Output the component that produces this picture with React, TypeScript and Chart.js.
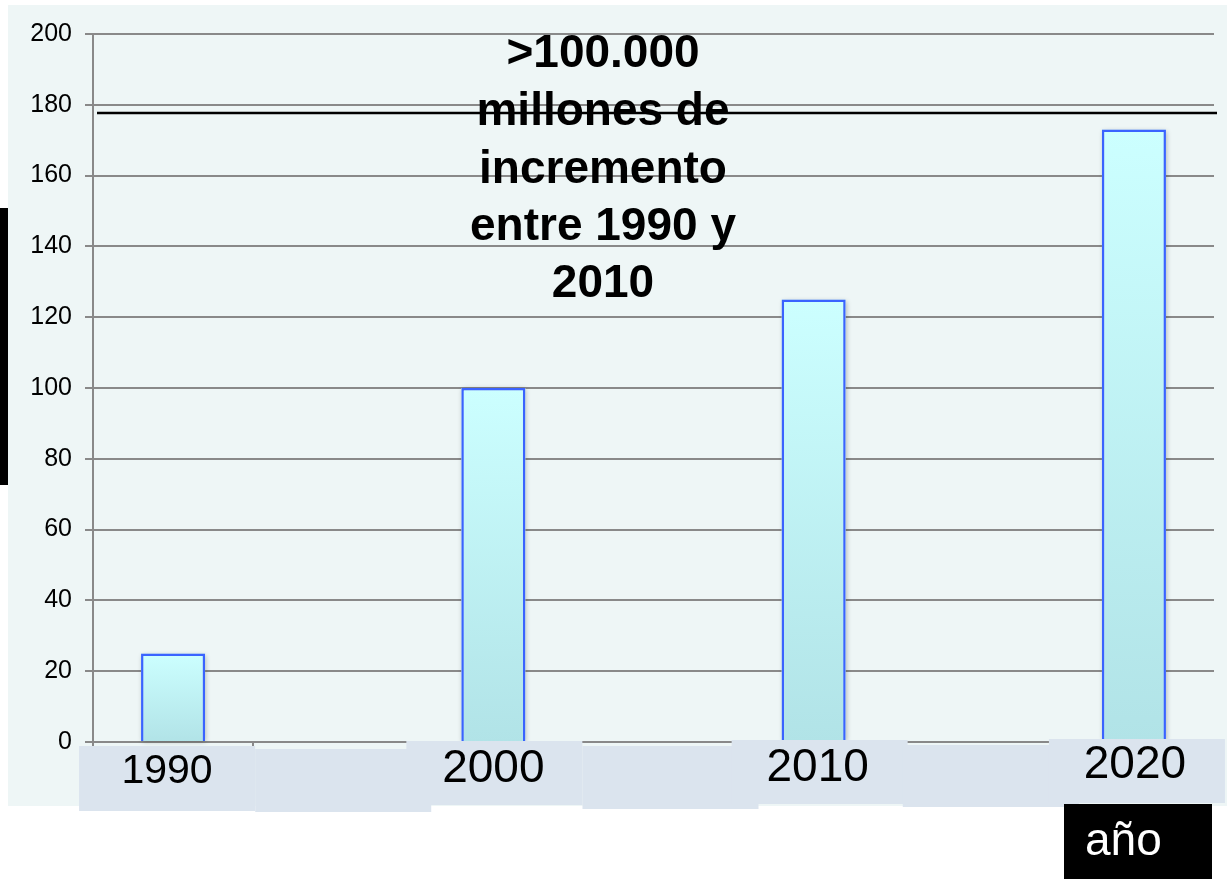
import React, { useEffect, useRef } from 'react';
import { Chart, registerables } from 'chart.js';

Chart.register(...registerables);

// ---- data ----
const CATEGORIES = ['1990', '', '2000', '', '2010', '', '2020'];
const VALUES: (number | null)[] = [25, null, 100, null, 125, null, 173];
const Y_MIN = 0;
const Y_MAX = 200;
const Y_STEP = 20;
const THRESHOLD_VALUE = 177.7;
const NOTE_LINES = ['>100.000', 'millones de', 'incremento', 'entre 1990 y', '2010'];
const AXIS_NAME = 'año';

// ---- styles ----
const W = 1227;
const H = 879;
const FONT = "'Liberation Sans', Arial, Helvetica, sans-serif";
const GRID = '#898989';
const PANEL = '#eef6f6';
const BOX = '#dbe4ee';
// per-category label box geometry (relative to category centre / axis baseline)
const BOX_GEOM = [
  { dx: -94, top: 4, bottom: 69 },
  { dx: -78, top: 7, bottom: 70 },
  { dx: -87, top: -1, bottom: 63 },
  { dx: -71, top: 4, bottom: 67 },
  { dx: -82, top: -2, bottom: 62 },
  { dx: -71, top: 3, bottom: 65 },
  { dx: -85, top: -3, bottom: 61 },
];
const BOX_W = 176;
const LABEL_STYLE = [
  { size: 41, dx: -6, dy: 41 },
  null,
  { size: 46, dx: 0, dy: 40 },
  null,
  { size: 46, dx: 4, dy: 39 },
  null,
  { size: 46, dx: 1, dy: 36 },
];

const decorPlugin = {
  id: 'decor',
  beforeDraw(chart: any) {
    const ctx = chart.ctx;
    ctx.save();
    ctx.fillStyle = '#ffffff';
    ctx.fillRect(0, 0, W, H);
    ctx.fillStyle = PANEL;
    ctx.fillRect(8, 5, W - 8, 801);
    ctx.fillStyle = '#000000';
    ctx.fillRect(0, 208, 8, 277);
    ctx.restore();
  },
  beforeDatasetsDraw(chart: any) {
    const ctx = chart.ctx;
    const meta = chart.getDatasetMeta(0);
    ctx.save();
    ctx.shadowColor = 'rgba(0,0,0,0.28)';
    ctx.shadowBlur = 5;
    ctx.shadowOffsetX = 1;
    ctx.shadowOffsetY = 1;
    ctx.fillStyle = '#cfeff0';
    meta.data.forEach((el: any, i: number) => {
      if (VALUES[i] == null) return;
      const { x, y, base, width } = el.getProps(['x', 'y', 'base', 'width'], true);
      ctx.fillRect(x - width / 2, y, width, base - y);
    });
    ctx.restore();
  },
  afterDatasetsDraw(chart: any) {
    const ctx = chart.ctx;
    const ys = chart.scales.y;
    const area = chart.chartArea;
    const ly = ys.getPixelForValue(THRESHOLD_VALUE);
    ctx.save();
    ctx.strokeStyle = '#000000';
    ctx.lineWidth = 2.4;
    ctx.beginPath();
    ctx.moveTo(area.left + 4, ly);
    ctx.lineTo(area.right + 3, ly);
    ctx.stroke();

    ctx.fillStyle = '#000000';
    ctx.font = `bold 46px ${FONT}`;
    ctx.textAlign = 'center';
    ctx.textBaseline = 'alphabetic';
    const cx = area.left + 510;
    const baselines = [67, 125, 183, 240, 297];
    NOTE_LINES.forEach((t, i) => {
      ctx.fillText(t, cx, baselines[i]);
    });
    ctx.restore();
  },
  afterDraw(chart: any) {
    const ctx = chart.ctx;
    const xs = chart.scales.x;
    const base = chart.chartArea.bottom;
    ctx.save();
    ctx.fillStyle = BOX;
    CATEGORIES.forEach((_, i) => {
      const g = BOX_GEOM[i];
      const c = xs.getPixelForValue(i);
      ctx.fillRect(c + g.dx, base + g.top, BOX_W, g.bottom - g.top);
    });
    ctx.fillStyle = '#000000';
    ctx.textAlign = 'center';
    ctx.textBaseline = 'alphabetic';
    CATEGORIES.forEach((lab, i) => {
      const s = LABEL_STYLE[i];
      if (!lab || !s) return;
      const c = xs.getPixelForValue(i);
      ctx.font = `${s.size}px ${FONT}`;
      ctx.fillText(lab, c + s.dx, base + s.dy);
    });
    // axis name box
    ctx.fillStyle = '#000000';
    ctx.fillRect(1064, 804, 148, H - 804);
    ctx.fillStyle = '#ffffff';
    ctx.font = `46px ${FONT}`;
    ctx.textAlign = 'left';
    ctx.fillText(AXIS_NAME, 1085, 855);
    ctx.restore();
  },
};

export default function App() {
  const ref = useRef<HTMLCanvasElement | null>(null);
  useEffect(() => {
    if (!ref.current) return;
    const chart = new Chart(ref.current, {
      type: 'bar',
      data: {
        labels: CATEGORIES,
        datasets: [
          {
            data: VALUES as any,
            backgroundColor: (ctx: any) => {
              const c = ctx.chart;
              const ys = c.scales && c.scales.y;
              if (!ys || ctx.raw == null) return '#c4f3f5';
              const top = ys.getPixelForValue(ctx.raw);
              const bot = ys.getPixelForValue(0);
              if (!isFinite(top) || !isFinite(bot) || top === bot) return '#c4f3f5';
              const g = c.ctx.createLinearGradient(0, top, 0, bot);
              g.addColorStop(0, '#ccffff');
              g.addColorStop(1, '#b1e3e7');
              return g;
            },
            borderColor: '#3a63ff',
            borderWidth: 2.5,
            barPercentage: 0.4,
            categoryPercentage: 1.0,
          },
        ],
      },
      options: {
        responsive: false,
        animation: false,
        events: [],
        layout: { padding: { left: 0, right: 13, top: 34, bottom: 0 } },
        plugins: {
          legend: { display: false },
          tooltip: { enabled: false },
          title: { display: false },
        },
        scales: {
          x: {
            type: 'category',
            offset: true,
            grid: {
              display: true,
              drawOnChartArea: false,
              drawTicks: true,
              tickLength: 5,
              color: GRID,
              lineWidth: 2,
              offset: true,
            },
            border: { display: true, color: GRID, width: 2 },
            ticks: { display: false },
            afterFit: (s: any) => {
              s.height = 137;
            },
          },
          y: {
            min: Y_MIN,
            max: Y_MAX,
            ticks: {
              stepSize: Y_STEP,
              color: '#000000',
              font: { family: FONT, size: 25 },
              padding: 13,
            },
            grid: { color: GRID, lineWidth: 2, tickLength: 8 },
            border: { display: true, color: GRID, width: 2 },
            afterFit: (s: any) => {
              s.width = 93;
            },
          },
        },
      },
      plugins: [decorPlugin],
    } as any);
    return () => chart.destroy();
  }, []);
  return (
    <div style={{ position: 'fixed', left: 0, top: 0, width: W, height: H }}>
      <canvas ref={ref} width={W} height={H} style={{ display: 'block', width: W, height: H }} />
    </div>
  );
}
